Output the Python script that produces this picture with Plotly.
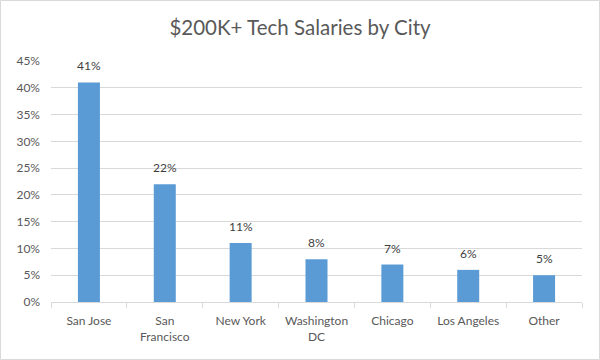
import plotly.graph_objects as go

cities = ["San Jose", "San<br>Francisco", "New York", "Washington<br>DC", "Chicago", "Los Angeles", "Other"]
shares = [0.41, 0.22, 0.11, 0.08, 0.07, 0.06, 0.05]
labels = ["41%", "22%", "11%", "8%", "7%", "6%", "5%"]
y_ticks = [0, 0.05, 0.10, 0.15, 0.20, 0.25, 0.30, 0.35, 0.40, 0.45]
y_tick_labels = ["0%", "5%", "10%", "15%", "20%", "25%", "30%", "35%", "40%", "45%"]

W, H = 600, 360
ml, mr, mt, mb = 51, 18, 61, 58
pw, ph = W - ml - mr, H - mt - mb

fig = go.Figure(go.Bar(
    x=cities, y=shares,
    marker=dict(color="#5B9BD5", line=dict(width=0)),
    width=0.29,
    hoverinfo="skip",
))

annotations = [dict(x=c, y=v, text=t, showarrow=False, xref="x", yref="y",
                    yanchor="bottom", yshift=7,
                    font=dict(size=12, color="#404040"))
               for c, v, t in zip(cities, shares, labels)]

fig.update_layout(
    width=W, height=H,
    margin=dict(l=ml, r=mr, t=mt, b=mb),
    paper_bgcolor="white", plot_bgcolor="white",
    font=dict(family="Lato, Open Sans, sans-serif", size=12, color="#595959"),
    title=dict(text="$200K+ Tech Salaries by City", x=0.5, xanchor="center",
               y=1 - 28 / H, yanchor="middle",
               font=dict(size=20.5, color="#595959")),
    showlegend=False,
    annotations=annotations,
    shapes=[dict(type="rect", xref="paper", yref="paper",
                 x0=(0.5 - ml) / pw, x1=(W - 0.5 - ml) / pw,
                 y0=((H - mb) - (H - 0.5)) / ph, y1=((H - mb) - 0.5) / ph,
                 line=dict(color="#D9D9D9", width=1), layer="below")],
)

fig.update_yaxes(range=[0, 0.45], tickvals=y_ticks, ticktext=y_tick_labels,
                 showgrid=True, gridcolor="#D9D9D9", gridwidth=1,
                 zeroline=False, showline=False, ticks="",
                 ticklabelstandoff=10,
                 tickfont=dict(size=12, color="#595959"))
fig.update_xaxes(showline=True, linecolor="#D9D9D9", linewidth=1,
                 ticks="outside", tickson="boundaries", ticklen=5, tickcolor="#D9D9D9",
                 ticklabelstandoff=8,
                 tickfont=dict(size=12, color="#595959"))

fig.write_html("out.html", config={"displayModeBar": False},
               post_script="document.body.style.margin='0px';")
